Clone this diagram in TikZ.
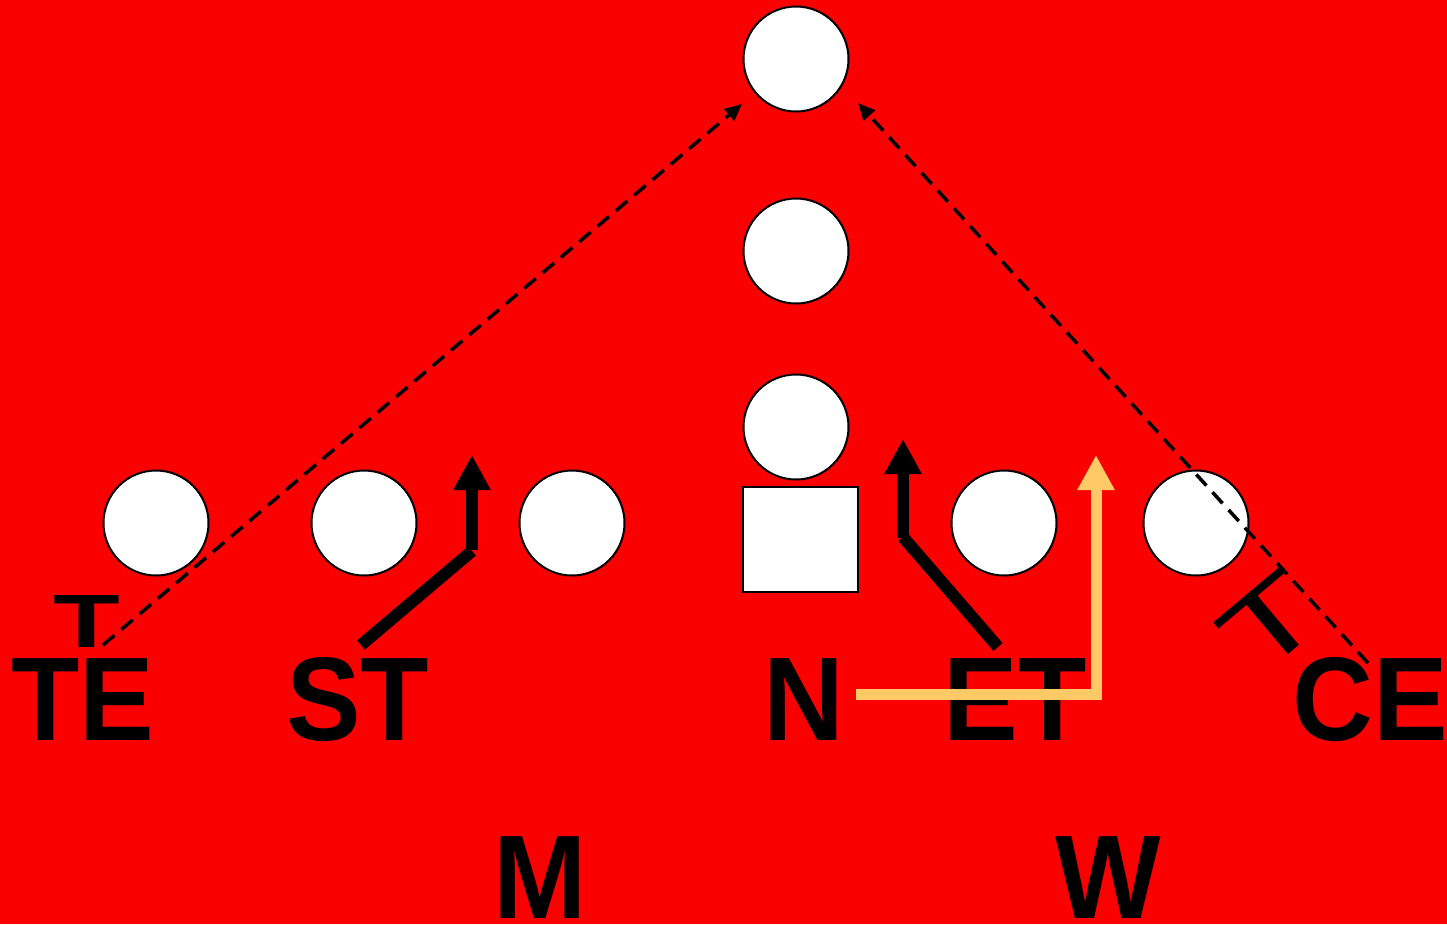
\documentclass[tikz,border=0pt]{standalone}
\usepackage{fontspec}
\setmainfont{Liberation Sans}
\usetikzlibrary{arrows.meta}
\definecolor{bgred}{RGB}{250,0,0}
\definecolor{routeyellow}{RGB}{255,201,102}
\newcommand{\lbltext}[1]{\scalebox{0.94}[1]{#1}}
\begin{document}
\begin{tikzpicture}[x=1pt,y=-1pt,
  player/.style={circle,draw=black,line width=2pt,fill=white,minimum size=105pt,inner sep=0pt},
  center/.style={rectangle,draw=black,line width=2pt,fill=white,minimum width=115pt,minimum height=105pt,inner sep=0pt},
  lbl/.style={font=\bfseries\fontsize{119}{119}\selectfont,anchor=base,inner sep=0pt},
  smallT/.style={font=\bfseries\fontsize{84}{84}\selectfont,inner sep=0pt},
  thinT/.style={font=\fontsize{84}{84}\selectfont,inner sep=0pt},
  dashpath/.style={line width=3.5pt,dash pattern=on 15pt off 9pt,-{Triangle[length=17pt,width=15pt]}},
  thickline/.style={line width=12pt},
  thickarrow/.style={line width=12pt,-{Triangle[length=35pt,width=35pt]}},
  yellowarrow/.style={draw=routeyellow,line width=11pt,-{Triangle[length=35pt,width=35pt,fill=routeyellow]}}
]
\fill[bgred] (0,0) rectangle (1447,924);
\useasboundingbox (0,0) rectangle (1447,924);

% players
\node[player] (s) at (796,59) {};
\node[player] (fs) at (796,251) {};
\node[player] (qb) at (796,427) {};
\node[player] (p1) at (156,523) {};
\node[player] (p2) at (364,523) {};
\node[player] (p3) at (572,523) {};
\node[player] (p4) at (1004,523) {};
\node[player] (p5) at (1196,523) {};
\node[center] (c) at (800.5,539.5) {};

% labels
\node[lbl] (te) at (83,740) {\lbltext{TE}};
\node[lbl] (st) at (357.5,740) {\lbltext{ST}};
\node[lbl] (n) at (804,740) {\lbltext{N}};
\node[lbl] (et) at (1015,740) {\lbltext{ET}};
\node[lbl] (ce) at (1370,740) {\lbltext{CE}};
\node[lbl] (m) at (540,918) {\lbltext{M}};
\node[lbl] (w) at (1108,918) {\lbltext{W}};

% small T markers
\node[smallT,anchor=base] (t1) at (87,647) {\scalebox{1.3}[0.9]{T}};

% dashed routes
\coordinate (te0) at (103,645);
\coordinate (te1) at (742,104);
\coordinate (ce0) at (1368,663);
\coordinate (ce1) at (858,103);
\draw[dashpath] (te0) -- (te1);
\draw[dashpath] (ce0) -- (ce1);

\node[thinT,rotate=40] (t2) at (1271,622) {\scalebox{1.85}[1.25]{T}};

% ST route
\coordinate (st0) at (361,645);
\coordinate (st1) at (472,551);
\coordinate (st1b) at (472,550);
\coordinate (st2) at (472,455);
\draw[thickline] (st0) -- (st1);
\draw[thickarrow] (st1b) -- (st2);

% ET route
\coordinate (et0) at (998,647);
\coordinate (et1) at (903,537);
\coordinate (et1b) at (903,538);
\coordinate (et2) at (903,439);
\draw[thickline] (et0) -- (et1);
\draw[thickarrow] (et1b) -- (et2);

% yellow route
\coordinate (y0) at (856,694);
\coordinate (y1) at (1096,694);
\coordinate (y2) at (1096,455);
\draw[yellowarrow] (y0) -- (y1) -- (y2);
\end{tikzpicture}
\end{document}
